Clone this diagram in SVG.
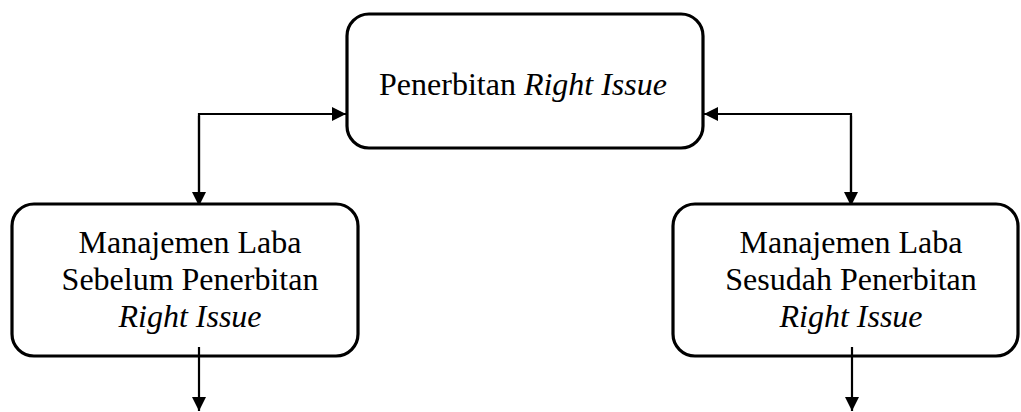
<svg xmlns="http://www.w3.org/2000/svg" width="1021" height="412" viewBox="0 0 1021 412">
<style>
.box{fill:#fff;stroke:#000;stroke-width:3.2}
.t{font-family:'Liberation Serif',Tinos,'Times New Roman',Times,'DejaVu Serif',serif;font-size:32px;fill:#000;text-anchor:middle}
.i{font-style:italic}
.c{fill:none;stroke:#000;stroke-width:2.2}
</style>
<defs>
<marker id="ah" markerUnits="userSpaceOnUse" markerWidth="16" markerHeight="16" viewBox="0 0 16 16" refX="14" refY="8" orient="auto">
<path d="M0,1 L14,8 L0,15 Z" fill="#000"/>
</marker>
</defs>
<g id="connectors">
<path class="c" d="M199,204 V114 H346" marker-end="url(#ah)"/>
<path class="c" d="M199,116 V206" marker-end="url(#ah)"/>
<path class="c" d="M851,204 V114 H704" marker-end="url(#ah)"/>
<path class="c" d="M851,116 V206" marker-end="url(#ah)"/>
<path class="c" d="M199,347 V411" marker-end="url(#ah)"/>
<path class="c" d="M852,347 V411" marker-end="url(#ah)"/>
</g>
<g id="node-top">
<rect class="box" x="347" y="14" width="356" height="134" rx="22"/>
<text class="t" x="523" y="95">Penerbitan <tspan class="i">Right Issue</tspan></text>
</g>
<g id="node-left">
<rect class="box" x="12" y="204" width="346" height="152" rx="22"/>
<text class="t" x="190" y="253">Manajemen Laba</text>
<text class="t" x="190" y="290">Sebelum Penerbitan</text>
<text class="t i" x="190" y="327">Right Issue</text>
</g>
<g id="node-right">
<rect class="box" x="673" y="204" width="345" height="152" rx="22"/>
<text class="t" x="851" y="253">Manajemen Laba</text>
<text class="t" x="851" y="290">Sesudah Penerbitan</text>
<text class="t i" x="851" y="327">Right Issue</text>
</g>
<g id="arrow-fix">
<path class="c" d="M199,347 V356"/>
<path class="c" d="M852,347 V356"/>
</g>
</svg>
